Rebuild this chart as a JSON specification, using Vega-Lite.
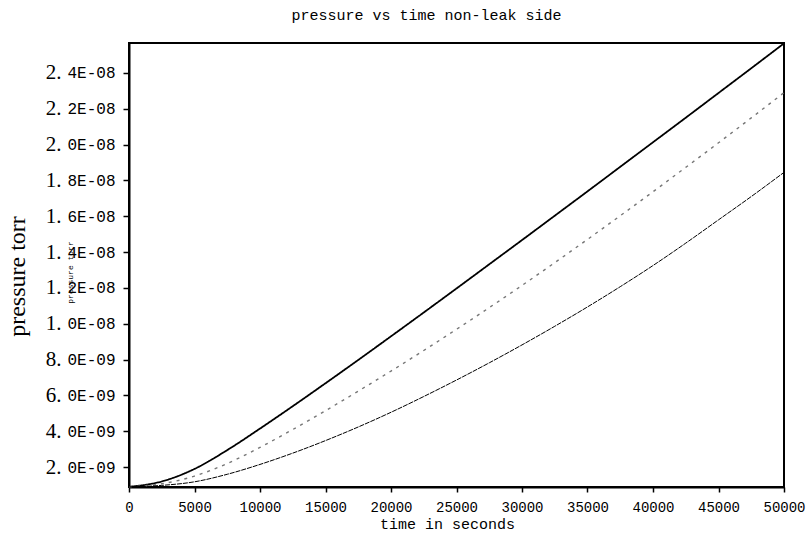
{
  "$schema": "https://vega.github.io/schema/vega-lite/v6.json",
  "autosize": {"type": "none"},
  "padding": {"left": 129, "top": 43, "right": 25, "bottom": 46},
  "width": 655,
  "height": 444,
  "background": "white",
  "title": {
    "text": "pressure vs time non-leak side",
    "font": "Liberation Mono",
    "fontSize": 15,
    "fontWeight": "normal",
    "color": "black",
    "anchor": "middle",
    "dx": -30,
    "offset": 17
  },
  "config": {
    "view": {"stroke": "black", "strokeWidth": 2},
    "axis": {"grid": false, "domainColor": "black", "domainWidth": 2, "tickColor": "black", "labelColor": "black", "titleColor": "black"}
  },
  "data": {
    "values": [
      {"t": 0, "a": 0.90e-9, "b": 0.90e-9, "c": 0.90e-9},
      {"t": 2500, "a": 1.2e-9, "b": 1.07e-9, "c": 0.98e-9},
      {"t": 5000, "a": 1.9e-9, "b": 1.5e-9, "c": 1.18e-9},
      {"t": 7500, "a": 2.95e-9, "b": 2.2e-9, "c": 1.6e-9},
      {"t": 10000, "a": 4.15e-9, "b": 3.1e-9, "c": 2.15e-9},
      {"t": 12500, "a": 5.4e-9, "b": 4.1e-9, "c": 2.78e-9},
      {"t": 15000, "a": 6.68e-9, "b": 5.15e-9, "c": 3.48e-9},
      {"t": 17500, "a": 7.98e-9, "b": 6.24e-9, "c": 4.24e-9},
      {"t": 20000, "a": 9.3e-9, "b": 7.36e-9, "c": 5.06e-9},
      {"t": 22500, "a": 10.63e-9, "b": 8.51e-9, "c": 5.94e-9},
      {"t": 25000, "a": 11.97e-9, "b": 9.69e-9, "c": 6.86e-9},
      {"t": 27500, "a": 13.32e-9, "b": 10.9e-9, "c": 7.82e-9},
      {"t": 30000, "a": 14.67e-9, "b": 12.14e-9, "c": 8.82e-9},
      {"t": 32500, "a": 16.03e-9, "b": 13.41e-9, "c": 9.86e-9},
      {"t": 35000, "a": 17.39e-9, "b": 14.71e-9, "c": 10.94e-9},
      {"t": 37500, "a": 18.76e-9, "b": 16.03e-9, "c": 12.07e-9},
      {"t": 40000, "a": 20.13e-9, "b": 17.37e-9, "c": 13.25e-9},
      {"t": 42500, "a": 21.5e-9, "b": 18.73e-9, "c": 14.5e-9},
      {"t": 45000, "a": 22.88e-9, "b": 20.1e-9, "c": 15.8e-9},
      {"t": 47500, "a": 24.26e-9, "b": 21.49e-9, "c": 17.1e-9},
      {"t": 50000, "a": 25.65e-9, "b": 22.9e-9, "c": 18.45e-9}
    ]
  },
  "transform": [{"fold": ["a", "b", "c"], "as": ["series", "p"]}],
  "layer": [
    {
      "mark": {"type": "line", "interpolate": "monotone"},
      "encoding": {
        "x": {
          "field": "t", "type": "quantitative",
          "scale": {"domain": [0, 50000], "nice": false},
          "axis": {
            "values": [0, 5000, 10000, 15000, 20000, 25000, 30000, 35000, 40000, 45000, 50000],
            "format": "d",
            "labelFont": "Liberation Mono", "labelFontSize": 14,
            "labelPadding": 8, "tickSize": 5, "tickWidth": 1.5,
            "labelFlush": false, "labelOverlap": false,
            "title": "time in seconds",
            "titleFont": "Liberation Mono", "titleFontSize": 15, "titleFontWeight": "normal",
            "titlePadding": 2, "titleX": 318
          }
        },
        "y": {
          "field": "p", "type": "quantitative",
          "scale": {"domain": [0.89e-9, 2.567e-8], "nice": false, "zero": false},
          "axis": {
            "values": [2e-9, 4e-9, 6e-9, 8e-9, 1e-8, 1.2e-8, 1.4e-8, 1.6e-8, 1.8e-8, 2e-8, 2.2e-8, 2.4e-8],
            "labelExpr": "datum.value >= 0.0000000099 ? substring(format(datum.value * 100000000, '.1f'), 2) + 'E-08' : substring(format(datum.value * 1000000000, '.1f'), 2) + 'E-09'",
            "labelFont": "Liberation Mono", "labelFontSize": 16,
            "labelPadding": 8, "tickSize": 6, "tickWidth": 1.5,
            "labelOverlap": false, "labelFlush": false,
            "title": "pressure torr",
            "titleFont": "Liberation Serif", "titleFontSize": 24, "titleFontWeight": "normal",
            "titleBaseline": "alphabetic", "titleAngle": -90,
            "titleX": -105, "titleY": 233
          }
        },
        "color": {
          "field": "series", "type": "nominal",
          "scale": {"domain": ["a", "b", "c"], "range": ["#000000", "#777777", "#000000"]},
          "legend": null
        },
        "strokeDash": {
          "field": "series", "type": "nominal",
          "scale": {"domain": ["a", "b", "c"], "range": [[1, 0], [3, 5], [5, 1]]},
          "legend": null
        },
        "strokeWidth": {
          "field": "series", "type": "nominal",
          "scale": {"domain": ["a", "b", "c"], "range": [1.8, 1, 1.6]},
          "legend": null
        }
      }
    },
    {
      "mark": {"type": "point", "opacity": 0},
      "encoding": {
        "x": {"field": "t", "type": "quantitative"},
        "y": {
          "field": "p", "type": "quantitative",
          "axis": {
            "orient": "left",
            "values": [2e-9, 4e-9, 6e-9, 8e-9, 1e-8, 1.2e-8, 1.4e-8, 1.6e-8, 1.8e-8, 2e-8, 2.2e-8, 2.4e-8],
            "labelExpr": "datum.value >= 0.0000000099 ? substring(format(datum.value * 100000000, '.1f'), 0, 2) : substring(format(datum.value * 1000000000, '.1f'), 0, 2)",
            "labelFont": "Liberation Serif", "labelFontSize": 21,
            "labelPadding": 68, "tickSize": 0, "ticks": false, "domain": false,
            "labelOverlap": false, "labelFlush": false,
            "title": "pressure torr",
            "titleFont": "Liberation Mono", "titleFontSize": 8, "titleFontWeight": "normal",
            "titleBaseline": "alphabetic", "titleAngle": -90,
            "titleX": -57, "titleY": 229
          }
        }
      }
    }
  ],
  "resolve": {"axis": {"y": "independent"}}
}
